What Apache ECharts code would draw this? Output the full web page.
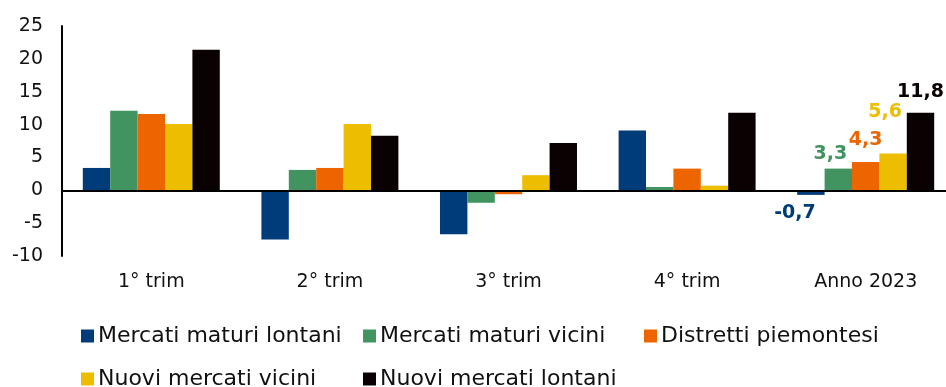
<!DOCTYPE html>
<html>
<head>
<meta charset="utf-8">
<script src="https://cdn.jsdelivr.net/npm/echarts@6/dist/echarts.min.js"></script>
<style>
  html, body { margin: 0; padding: 0; background: #fff; }
  #chart { width: 946px; height: 387px; }
</style>
</head>
<body>
<div id="chart"></div>
<script>
// Variazione % delle esportazioni per area di destinazione
const categories = ['1° trim', '2° trim', '3° trim', '4° trim', 'Anno 2023'];
const seriesNames = [
  'Mercati maturi lontani',
  'Mercati maturi vicini',
  'Distretti piemontesi',
  'Nuovi mercati vicini',
  'Nuovi mercati lontani'
];
const maturiLontani = [3.4, -7.5, -6.7, 9.1, -0.7];
const maturiVicini  = [12.1, 3.1, -1.9, 0.5, 3.3];
const distretti     = [11.6, 3.4, -0.6, 3.3, 4.3];
const nuoviVicini   = [10.1, 10.1, 2.3, 0.7, 5.6];
const nuoviLontani  = [21.4, 8.3, 7.2, 11.8, 11.8];
const yTicks = [-10, -5, 0, 5, 10, 15, 20, 25];

const colors = ['#003b7a', '#41935f', '#ec6500', '#ecbd00', '#0a0202'];
const values = [maturiLontani, maturiVicini, distretti, nuoviVicini, nuoviLontani];
const FONT = 'DejaVu Sans';

// label placement for the annual values (last category)
const annualLabel = [
  { position: 'bottom', distance: 9, offset: [-16, 0] },
  { position: 'top', distance: 5, offset: [-8, 0] },
  { position: 'top', distance: 12, offset: [0, 0] },
  { position: 'top', distance: 32, offset: [-8, 0] },
  { position: 'top', distance: 11, offset: [0, 0] }
];

const fmt = v => v.toFixed(1).replace('.', ',');

const series = values.map((vals, i) => ({
  name: seriesNames[i],
  type: 'bar',
  barWidth: 27.4,
  barGap: '0%',
  itemStyle: { color: colors[i] },
  data: vals.map((v, j) => {
    if (j !== categories.length - 1) return v;
    return {
      value: v,
      label: Object.assign({
        show: true,
        color: colors[i],
        fontFamily: FONT,
        fontWeight: 'bold',
        fontSize: 19,
        formatter: p => fmt(p.value)
      }, annualLabel[i])
    };
  }),
  markLine: i === 0 ? {
    silent: true,
    symbol: 'none',
    label: { show: false },
    lineStyle: { color: '#000', width: 2, type: 'solid' },
    data: [{ yAxis: 0 }]
  } : undefined
}));

// legend laid out as a grid: one legend per entry
const legendSlots = [
  { left: 81, top: 325 },
  { left: 363, top: 325 },
  { left: 644, top: 325 },
  { left: 81, top: 368 },
  { left: 363, top: 368 }
];
const legends = seriesNames.map((name, i) => ({
  left: legendSlots[i].left,
  top: legendSlots[i].top,
  padding: 0,
  data: [name],
  itemWidth: 13,
  itemHeight: 13,
  icon: 'rect',
  selectedMode: false,
  textStyle: { fontFamily: FONT, fontSize: 22, color: '#111', padding: [0, 0, 0, -1] }
}));

const chart = echarts.init(document.getElementById('chart'));
chart.setOption({
  animation: false,
  grid: { left: 62, top: 26, width: 893, height: 230, outerBoundsMode: 'none', containLabel: false },
  legend: legends,
  xAxis: {
    type: 'category',
    data: categories,
    axisLine: { show: false, onZero: false },
    axisTick: { show: false },
    axisLabel: { margin: 17, fontFamily: FONT, fontSize: 19, color: '#111' }
  },
  yAxis: {
    type: 'value',
    min: yTicks[0],
    max: yTicks[yTicks.length - 1],
    interval: 5,
    splitLine: { show: false },
    axisTick: { show: false },
    axisLine: { show: true, lineStyle: { color: '#000', width: 2 } },
    axisLabel: { margin: 19, fontFamily: FONT, fontSize: 19, color: '#111' }
  },
  series: series
});
</script>
</body>
</html>
